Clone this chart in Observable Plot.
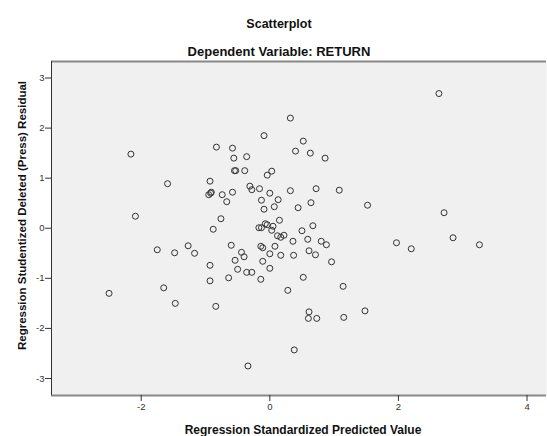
<!DOCTYPE html>
<html>
<head>
<meta charset="utf-8">
<script src="https://cdn.jsdelivr.net/npm/d3@7"></script>
<script src="https://cdn.jsdelivr.net/npm/@observablehq/plot@0.6"></script>
<style>
  html, body { margin: 0; padding: 0; background: #fff; }
  #wrap { width: 547px; height: 436px; position: relative; font-family: "Liberation Sans", Arial, sans-serif; }
  #header { position: relative; width: 547px; height: 56px; }
  .ttl { position: absolute; left: 11px; width: 536px; text-align: center; font-weight: bold; color: #111; line-height: 16px; white-space: nowrap; }
  #title { top: 15.5px; font-size: 12.5px; }
  #subtitle { top: 44px; font-size: 13px; }
  svg { display: block; }
</style>
</head>
<body>
<div id="wrap">
  <div id="header">
    <div id="title" class="ttl"></div>
    <div id="subtitle" class="ttl"></div>
  </div>
  <div id="chart"></div>
</div>
<script>
const titleText = "Scatterplot";
const subtitleText = "Dependent Variable: RETURN";
const xLabel = "Regression Standardized Predicted Value";
const yLabel = "Regression Studentized Deleted (Press) Residual";
const xTicks = [-2, 0, 2, 4];
const yTicks = [-3, -2, -1, 0, 1, 2, 3];
const xDomain = [-3.395, 4.303];
const yDomain = [-3.34, 3.33];

const predicted = [
  -2.16, -1.59, -2.09, -0.83, -0.58, -0.56, -0.36, -0.55, -0.53, -0.39,
  -0.09, 0.32, 0.40, 0.52, 0.63, 0.86, -0.93, -0.91, -0.92, -0.95,
  -0.74, -0.67, -0.58, -0.31, -0.28, -0.16, -0.13, -0.09, 0.00, -0.04,
  0.03, 0.13, 0.07, 0.32, 0.44, 0.72, 1.08, 0.64, 1.52, 2.71,
  0.67, 0.50, -0.76, -0.88, -0.17, -0.13, -0.07, -0.04, 0.05, 0.15,
  0.03, 0.12, 0.17, 0.22, 0.36, 0.37, 0.17, 0.00, 0.08, -0.14,
  -0.11, -0.11, 0.00, -0.14, -0.28, -0.36, -0.50, -0.54, -0.44, -0.40,
  -0.60, -0.64, -0.93, -0.93, -0.84, -1.27, -1.17, -1.48, -1.75, -1.65,
  -1.47, -2.50, -0.34, 0.38, 0.28, 0.59, 0.80, 0.88, 0.61, 0.71,
  0.96, 0.52, 1.14, 0.61, 0.60, 0.73, 1.15, 1.48, 1.97, 2.20,
  2.85, 3.26, 2.63
];
const residual = [
  1.48, 0.89, 0.24, 1.62, 1.60, 1.40, 1.43, 1.15, 1.15, 1.15,
  1.85, 2.20, 1.54, 1.74, 1.50, 1.40, 0.94, 0.72, 0.70, 0.67,
  0.67, 0.53, 0.72, 0.84, 0.77, 0.79, 0.56, 0.38, 0.70, 1.06,
  1.14, 0.57, 0.43, 0.75, 0.41, 0.79, 0.76, 0.51, 0.46, 0.31,
  0.05, -0.05, 0.19, -0.02, 0.01, 0.01, 0.09, 0.07, 0.04, 0.16,
  -0.04, -0.15, -0.18, -0.14, -0.26, -0.54, -0.54, -0.51, -0.36, -0.36,
  -0.39, -0.66, -0.80, -1.02, -0.88, -0.88, -0.82, -0.64, -0.48, -0.57,
  -0.34, -0.99, -0.74, -1.05, -1.56, -0.35, -0.50, -0.49, -0.43, -1.19,
  -1.50, -1.30, -2.75, -2.43, -1.24, -0.22, -0.26, -0.33, -0.45, -0.53,
  -0.67, -0.98, -1.16, -1.67, -1.80, -1.80, -1.78, -1.65, -0.29, -0.41,
  -0.19, -0.33, 2.69
];

document.getElementById("title").textContent = titleText;
document.getElementById("subtitle").textContent = subtitleText;

const data = predicted.map((x, i) => ({x, y: residual[i]}));

const chart = Plot.plot({
  width: 547,
  height: 380,
  marginTop: 5,
  marginBottom: 41,
  marginLeft: 51,
  marginRight: 1,
  style: {fontFamily: "'Liberation Sans', Arial, sans-serif", background: "transparent"},
  x: {domain: xDomain, label: null},
  y: {domain: yDomain, label: null},
  marks: [
    Plot.frame({fill: "#f0f0f0", stroke: null}),
    Plot.ruleY([yDomain[1]], {stroke: "#888", strokeWidth: 2}),
    Plot.ruleY([yDomain[0]], {stroke: "#888", strokeWidth: 2}),
    Plot.ruleX([xDomain[0]], {stroke: "#333", strokeWidth: 1}),
    Plot.axisX({ticks: xTicks, tickSize: 6, tickPadding: 2, fontSize: 9.5, color: "#333", tickFormat: d => String(d), label: null}),
    Plot.axisY({ticks: yTicks, tickSize: 6, tickPadding: 1, fontSize: 9.5, color: "#333", tickFormat: d => String(d), label: null}),
    Plot.dot(data, {x: "x", y: "y", r: 3, stroke: "#333", strokeWidth: 1, fill: "none"}),
    Plot.text([xLabel], {text: d => d, frameAnchor: "bottom", dy: 35, dx: 4, fontSize: 12, fontWeight: "bold", fill: "#111", textAnchor: "middle", lineAnchor: "middle"}),
    Plot.text([yLabel], {text: d => d, frameAnchor: "left", rotate: -90, dx: -29, dy: -13, fontSize: 11.5, fontWeight: "bold", fill: "#111", textAnchor: "middle", lineAnchor: "middle"})
  ]
});
document.getElementById("chart").appendChild(chart);
</script>
</body>
</html>
